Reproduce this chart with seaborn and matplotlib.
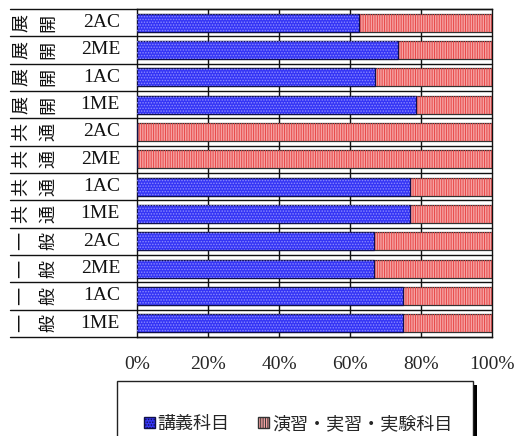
import matplotlib
matplotlib.use("Agg")
import matplotlib.pyplot as plt
import matplotlib.patches as mpatches
import matplotlib.transforms as mtransforms
import seaborn as sns
import pandas as pd

# data (top row first)
groups = ["展開", "展開", "展開", "展開", "共通", "共通", "共通", "共通",
          "一般", "一般", "一般", "一般"]
codes = ["2AC", "2ME", "1AC", "1ME", "2AC", "2ME", "1AC", "1ME",
         "2AC", "2ME", "1AC", "1ME"]
lecture = [62.5, 73.5, 67.0, 78.6, 0.0, 0.0, 77.0, 77.0, 66.8, 66.8, 75.0, 75.0]
practice = [37.5, 26.5, 33.0, 21.4, 100.0, 100.0, 23.0, 23.0, 33.2, 33.2, 25.0, 25.0]
series_names = ["講義科目", "演習・実習・実験科目"]
tick_values = [0, 20, 40, 60, 80, 100]
tick_labels = ["0%", "20%", "40%", "60%", "80%", "100%"]

W, H = 514, 436
blue, blue_hatch = "#3535f5", "#8a8aff"
red, red_hatch = "#f5a3a3", "#e84848"
cjk = "Noto Sans CJK JP"
serif = "Liberation Serif"

df = pd.DataFrame({"key": [g + " " + c for g, c in zip(groups, codes)],
                   "lecture": lecture, "practice": practice})
df["total"] = df["lecture"] + df["practice"]

sns.set_style("white")
plt.rcParams["hatch.linewidth"] = 0.7

fig = plt.figure(figsize=(W / 100, H / 100), dpi=100)
ax = fig.add_axes([137 / W, 1 - 337 / H, (492 - 137) / W, (337 - 9) / H])

# vertical grid lines behind bars
for v in tick_values[1:-1]:
    ax.axvline(v, color="#111111", lw=1.0, zorder=0)

sns.barplot(data=df, x="total", y="key", orient="h", color=red, saturation=1,
            width=0.66, edgecolor="#333333", linewidth=0.9, ax=ax, zorder=2)
sns.barplot(data=df, x="lecture", y="key", orient="h", color=blue, saturation=1,
            width=0.66, edgecolor="#10104a", linewidth=0.9, ax=ax, zorder=3)

# texture overlays
n = len(df)
for i, p in enumerate(list(ax.patches)):
    is_red = i < n
    over = mpatches.Rectangle(p.get_xy(), p.get_width(), p.get_height(),
                              fill=False, hatch="|" * 7 if is_red else "." * 6,
                              edgecolor=red_hatch if is_red else blue_hatch,
                              linewidth=0, zorder=p.get_zorder() + 0.1)
    ax.add_patch(over)

ax.set_xlim(0, 100)
ax.set_ylim(n - 0.5, -0.5)
ax.set_xlabel("")
ax.set_ylabel("")
ax.set_yticks([])
ax.set_xticks(tick_values)
ax.set_xticklabels(tick_labels, fontfamily=serif, fontsize=14)
ax.tick_params(axis="x", length=0, pad=14)
for s in ax.spines.values():
    s.set_visible(True)
    s.set_color("#111111")
    s.set_linewidth(1.0)

# row separators extending into the label column
tr = mtransforms.blended_transform_factory(ax.transAxes, ax.transData)
x_left = (10 - 137) / (492 - 137)
for b in range(n + 1):
    yb = b - 0.5
    ax.plot([x_left, 1], [yb, yb], color="#111111", lw=1.0, transform=tr,
            clip_on=False, zorder=1)

# row labels (group name set as rotated vertical text)
for i, (g, c) in enumerate(zip(groups, codes)):
    for j, ch in enumerate(g):
        ax.text((21 + 27 * j - 137) / 355, i, ch, transform=tr, ha="center",
                va="center", rotation=90, fontfamily=cjk, fontsize=13,
                color="#111111")
    ax.text((120 - 137) / 355, i, c, transform=tr, ha="right", va="center",
            fontfamily=serif, fontsize=14, color="#111111")

# legend box with shadow
fig.add_artist(mpatches.Rectangle((473 / W, 0), 4 / W, 1 - 385 / H,
                                  transform=fig.transFigure, facecolor="black",
                                  edgecolor="none"))
fig.add_artist(mpatches.Rectangle((117 / W, -0.05), (473 - 117) / W, 0.05 + 1 - 381 / H,
                                  transform=fig.transFigure, facecolor="white",
                                  edgecolor="#222222", linewidth=1.0))
handles = [mpatches.Patch(facecolor=blue, edgecolor="#10104a", hatch="." * 6),
           mpatches.Patch(facecolor=red, edgecolor="#333333", hatch="|" * 7)]
fig.legend(handles, series_names, loc="center", bbox_to_anchor=(298 / W, 1 - 424 / H),
           ncol=2, frameon=False, prop={"family": cjk, "size": 13},
           handlelength=0.6, handleheight=0.6, handletextpad=0.15,
           columnspacing=1.6)

fig.savefig("out.png", dpi=100)
